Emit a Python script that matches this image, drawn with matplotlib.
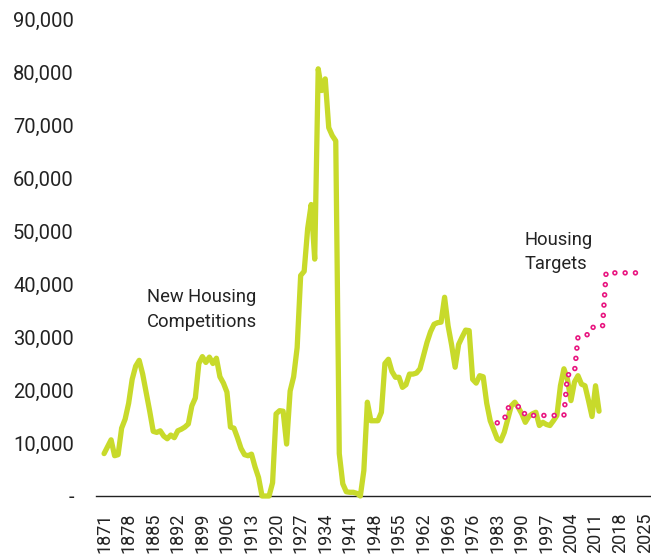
import matplotlib
matplotlib.use("Agg")
import matplotlib.pyplot as plt
from matplotlib.ticker import FuncFormatter

plt.rcParams['font.family'] = ['Roboto', 'DejaVu Sans']
plt.rcParams['lines.scale_dashes'] = False

# New housing completions, one value per year (1871-2012)
years = list(range(1871, 2013))
completions = [
    8.0, 9.3, 10.6, 7.6, 7.8, 12.8, 14.5, 17.5, 22.0, 24.5,       # 1871-1880
    25.6, 23.0, 19.5, 16.0, 12.2, 12.0, 12.3, 11.3, 10.8, 11.5,    # 1881-1890
    11.0, 12.3, 12.6, 13.0, 13.6, 17.0, 18.5, 25.0, 26.3, 25.2,    # 1891-1900
    26.2, 25.0, 26.0, 22.5, 21.3, 19.6, 13.0, 12.8, 11.0, 9.0,     # 1901-1910
    7.8, 7.6, 7.9, 5.5, 3.5, 0.0, 0.0, 0.0, 2.5, 15.5,             # 1911-1920
    16.1, 16.0, 9.8, 19.8, 22.5, 28.0, 41.6, 42.4, 50.5, 55.0,     # 1921-1930
    44.7, 80.6, 76.5, 78.7, 69.5, 68.0, 67.0, 8.0, 2.3, 0.8,       # 1931-1940
    0.7, 0.7, 0.5, 0.0, 4.8, 17.7, 14.2, 14.2, 14.2, 15.8,         # 1941-1950
    25.0, 25.8, 23.5, 22.4, 22.4, 20.5, 21.0, 23.0, 23.0, 23.2,    # 1951-1960
    24.0, 26.5, 29.0, 31.0, 32.4, 32.7, 32.8, 37.5, 32.1, 28.5,    # 1961-1970
    24.3, 28.6, 30.0, 31.3, 31.2, 22.0, 21.3, 22.7, 22.5, 17.5,    # 1971-1980
    14.2, 12.5, 10.8, 10.4, 12.0, 14.5, 17.0, 17.7, 16.7, 15.5,    # 1981-1990
    13.9, 15.0, 15.5, 15.8, 13.3, 13.9, 13.5, 13.3, 14.2, 15.2,    # 1991-2000
    20.8, 24.0, 22.0, 18.0, 21.5, 22.7, 21.1, 20.8, 18.0, 15.0,    # 2001-2010
    20.8, 16.0,                                                    # 2011-2012
]
completions = [v * 1000 for v in completions]

# Housing targets
target_years = [1983, 1985, 1986, 1988, 1990, 1991, 2002, 2003, 2005, 2006,
                2009, 2010, 2013, 2014, 2024]
targets = [13.8, 14.4, 16.6, 17.0, 16.7, 15.2, 15.2, 22.8, 23.3, 30.0,
           30.5, 31.8, 32.0, 42.1, 42.1]
targets = [v * 1000 for v in targets]

tick_years = list(range(1871, 2026, 7))
y_ticks = list(range(0, 90001, 10000))

green = '#c8da2b'
pink = '#e8147f'
text_color = '#232323'

fig = plt.figure(figsize=(6.51, 5.58), dpi=100)
ax = fig.add_axes([96 / 651, 62 / 558, 1 - 96 / 651, (496 - 19) / 558])

ax.plot(years, completions, color=green, linewidth=3.8,
        solid_joinstyle='round', solid_capstyle='round', clip_on=False, zorder=3)

# dotted ring line for the targets: pink dots with a white centre
ax.plot(target_years, targets, color=pink, linewidth=4.0,
        dashes=(0.001, 7.4), dash_capstyle='round', clip_on=False, zorder=4)
ax.plot(target_years, targets, color='white', linewidth=1.6,
        dashes=(0.001, 7.4), dash_capstyle='round', clip_on=False, zorder=5)

ax.set_xlim(1868.7, 2026.8)
ax.set_ylim(0, 90000)
ax.set_xticks(tick_years)
ax.set_xticklabels([str(y) for y in tick_years], rotation=90, fontsize=13,
                   color=text_color)
ax.set_yticks(y_ticks)
ax.yaxis.set_major_formatter(FuncFormatter(lambda v, p: '-' if v == 0 else f'{int(v):,}'))
ax.tick_params(axis='y', length=0, pad=16, labelsize=14.5, labelcolor=text_color)
ax.tick_params(axis='x', length=0, pad=12)

for side in ['top', 'right', 'left']:
    ax.spines[side].set_visible(False)
ax.spines['bottom'].set_color('#222222')
ax.spines['bottom'].set_linewidth(1.0)

ax.text(1883.3, 39200, 'New Housing\nCompetitions', fontsize=13.2,
        color=text_color, linespacing=1.45, va='top')
ax.text(1990.9, 50000, 'Housing\nTargets', fontsize=13.2,
        color=text_color, linespacing=1.45, va='top')

fig.savefig('out.png', dpi=100)
